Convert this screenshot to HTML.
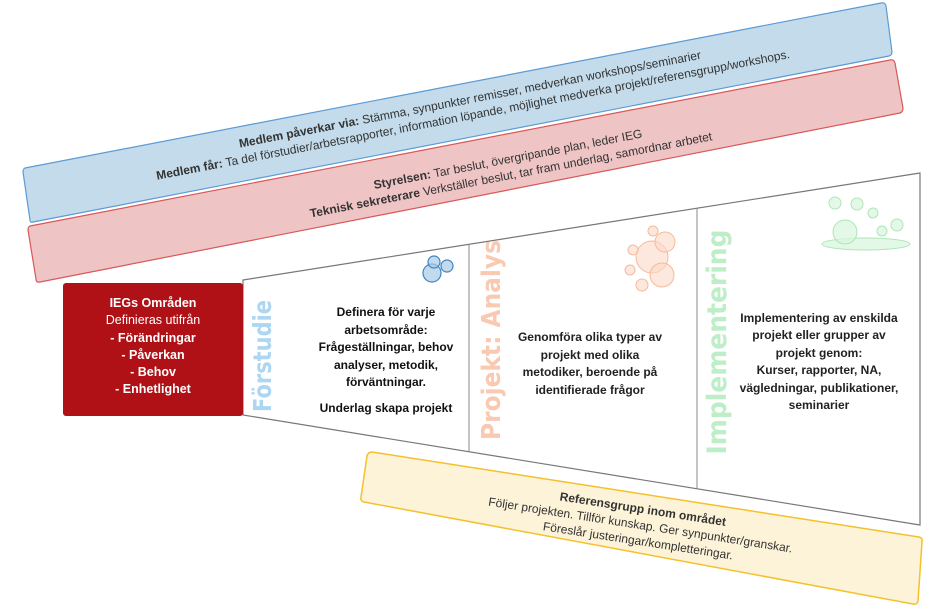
<!DOCTYPE html>
<html><head><meta charset="utf-8"><style>
body{margin:0;background:#fff;}
svg text{font-family:"Liberation Sans",sans-serif;}
</style></head><body>
<svg width="945" height="608" viewBox="0 0 945 608" xmlns="http://www.w3.org/2000/svg">
<path d="M25,168 L881,3 Q885,2 886,6 L892,52 Q892,55 889,56 L33,222 Q30,223 30,220 L23,172 Q23,169 25,168Z" fill="#c3dbea" stroke="#5b9bd5" stroke-width="1.2"/>
<path d="M30,226 L890,60 Q894,59 895,63 L903,108 Q903,112 900,113 L40,282 Q36,283 36,279 L28,230 Q28,227 30,226Z" fill="#efc4c4" stroke="#d9575a" stroke-width="1.2"/>
<g transform="rotate(-10.9 472 110)" font-size="12" fill="#333" text-anchor="middle">
<text x="472" y="103"><tspan font-weight="bold">Medlem påverkar via:</tspan> Stämma, synpunkter remisser, medverkan workshops/seminarier</text>
<text x="472" y="119"><tspan font-weight="bold">Medlem får:</tspan>  Ta del förstudier/arbetsrapporter, information löpande, möjlighet medverka projekt/referensgrupp/workshops.</text>
</g>
<g transform="rotate(-10.9 510 170)" font-size="12" fill="#333" text-anchor="middle">
<text x="510" y="163"><tspan font-weight="bold">Styrelsen:</tspan> Tar beslut, övergripande plan, leder IEG</text>
<text x="510" y="179"><tspan font-weight="bold">Teknisk sekreterare</tspan> Verkställer beslut, tar fram underlag, samordnar arbetet</text>
</g>
<polygon points="243,280 920,173 920,525 243,415" fill="#fff" stroke="#777" stroke-width="1.2"/>
<line x1="469" y1="244" x2="469" y2="452" stroke="#888" stroke-width="1"/>
<line x1="697" y1="208" x2="697" y2="489" stroke="#888" stroke-width="1"/>
<rect x="63" y="283" width="180" height="133" rx="3" fill="#b01117"/>
<g fill="#fff" font-size="12.5" text-anchor="middle">
<text x="153" y="307" font-weight="bold">IEGs Områden</text>
<text x="153" y="324">Definieras utifrån</text>
<text x="153" y="342" font-weight="bold">- Förändringar</text>
<text x="153" y="359" font-weight="bold">- Påverkan</text>
<text x="153" y="376" font-weight="bold">- Behov</text>
<text x="153" y="393" font-weight="bold">- Enhetlighet</text>
</g>
<text transform="translate(271,356) rotate(-90)" text-anchor="middle" font-size="25" font-weight="bold" fill="#acd6f2" textLength="112" lengthAdjust="spacingAndGlyphs" style="font-family:'DejaVu Sans',sans-serif">Förstudie</text>
<text transform="translate(500,340) rotate(-90)" text-anchor="middle" font-size="26" font-weight="bold" fill="#f9c9b1" textLength="200" lengthAdjust="spacingAndGlyphs" style="font-family:'DejaVu Sans',sans-serif">Projekt: Analys</text>
<text transform="translate(726,342) rotate(-90)" text-anchor="middle" font-size="27" font-weight="bold" fill="#bdeec7" textLength="225" lengthAdjust="spacingAndGlyphs" style="font-family:'DejaVu Sans',sans-serif">Implementering</text>
<g fill="#a9cbe6" fill-opacity="0.7" stroke="#3d85c6" stroke-width="1.2">
<circle cx="432" cy="273" r="9"/><circle cx="447" cy="266" r="6"/><circle cx="434" cy="262" r="6"/>
</g>
<g fill="#fbd9c8" fill-opacity="0.6" stroke="#f6b99a" stroke-width="1">
<circle cx="652" cy="257" r="16"/><circle cx="665" cy="242" r="10"/><circle cx="662" cy="275" r="12"/><circle cx="633" cy="250" r="5"/><circle cx="630" cy="270" r="5"/><circle cx="653" cy="231" r="5"/><circle cx="642" cy="285" r="6"/>
</g>
<g fill="#d8f5dd" fill-opacity="0.7" stroke="#aee6b8" stroke-width="1">
<ellipse cx="866" cy="244" rx="44" ry="6"/><circle cx="845" cy="232" r="12"/><circle cx="835" cy="203" r="6"/><circle cx="857" cy="204" r="6"/><circle cx="873" cy="213" r="5"/><circle cx="882" cy="231" r="5"/><circle cx="897" cy="225" r="6"/>
</g>
<g font-size="12" font-weight="bold" fill="#111" text-anchor="middle">
<text x="386" y="316">Definera för varje</text>
<text x="386" y="334">arbetsområde:</text>
<text x="386" y="351">Frågeställningar, behov</text>
<text x="386" y="369">analyser, metodik,</text>
<text x="386" y="386">förväntningar.</text>
<text x="386" y="412">Underlag skapa projekt</text>
<g fill="#222">
<text x="590" y="341">Genomföra olika typer av</text>
<text x="590" y="359">projekt med olika</text>
<text x="590" y="376">metodiker, beroende på</text>
<text x="590" y="394">identifierade frågor</text>
<text x="819" y="322">Implementering av enskilda</text>
<text x="819" y="339">projekt eller grupper av</text>
<text x="819" y="357">projekt genom:</text>
<text x="819" y="374">Kurser, rapporter, NA,</text>
<text x="819" y="392">vägledningar, publikationer,</text>
<text x="819" y="409">seminarier</text>
</g>
</g>
<path d="M372,452 L919,537 Q923,538 922,542 L918,601 Q917,605 913,604 L364,502 Q360,501 361,497 L367,456 Q368,452 372,452Z" fill="#fdf3d8" stroke="#f4c12b" stroke-width="1.5"/>
<g transform="rotate(8.8 640 528)" font-size="12" fill="#333" text-anchor="middle">
<text x="640" y="513" font-weight="bold">Referensgrupp inom området</text>
<text x="640" y="529">Följer projekten. Tillför kunskap. Ger synpunkter/granskar.</text>
<text x="640" y="545">Föreslår justeringar/kompletteringar.</text>
</g>
</svg>
</body></html>
